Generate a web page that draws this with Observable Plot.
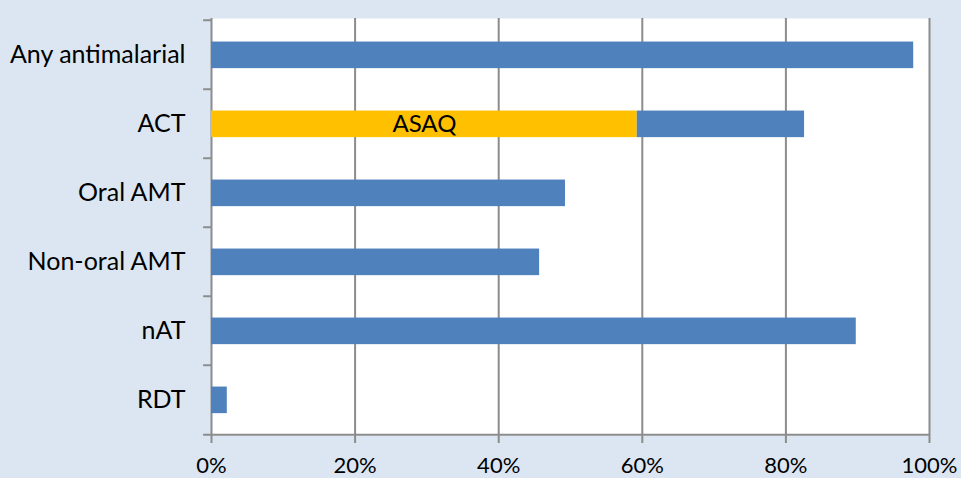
<!DOCTYPE html>
<html><head><meta charset="utf-8">
<script src="https://cdn.jsdelivr.net/npm/d3@7"></script>
<script src="https://cdn.jsdelivr.net/npm/@observablehq/plot@0.6"></script>
<style>
html,body{margin:0;padding:0;background:#dce6f2;}
#chart{width:961px;height:478px;}
</style></head>
<body><div id="chart"></div>
<script>
const categories = ["Any antimalarial", "ACT", "Oral AMT", "Non-oral AMT", "nAT", "RDT"];
const totals = [0.978, 0.826, 0.493, 0.457, 0.898, 0.022];
const asaqCategory = "ACT";
const asaqValue = 0.593;
const xTicks = [0, 0.2, 0.4, 0.6, 0.8, 1.0];

const rows = [];
categories.forEach((c, i) => {
  if (c === asaqCategory) {
    rows.push({cat: c, seg: "ASAQ", value: asaqValue, ord: 0});
    rows.push({cat: c, seg: "Other", value: totals[i] - asaqValue, ord: 1});
  } else {
    rows.push({cat: c, seg: "Other", value: totals[i], ord: 1});
  }
});

const W = 961, H = 478, mt = 18, mb = 43, ml = 211, mr = 32;
const step = (H - mt - mb) / categories.length;
const grey = "#8c8c8c";
const font = "Lato, 'Open Sans', sans-serif";

const chart = Plot.plot({
  width: W, height: H,
  marginTop: mt, marginBottom: mb, marginLeft: ml, marginRight: mr,
  style: {background: "transparent", fontFamily: font, color: "#000"},
  x: {domain: [0, 1]},
  y: {domain: categories, padding: 0},
  color: {domain: ["ASAQ", "Other"], range: ["#ffc000", "#4f81bd"]},
  marks: [
    Plot.frame({fill: "white", stroke: null}),
    Plot.ruleX(xTicks, {stroke: grey, strokeWidth: 2, strokeOpacity: 1}),
    Plot.barX(rows, Plot.stackX({y: "cat", x: "value", fill: "seg", order: "ord", insetTop: step * 0.31, insetBottom: step * 0.30})),
    Plot.text([{cat: asaqCategory, v: asaqValue / 2, label: "ASAQ"}], {x: "v", y: "cat", text: "label", fontSize: 24, fill: "#000"}),
    Plot.ruleY(categories, {y: d => d, x1: -0.011, x2: 0, dy: -step / 2, stroke: grey, strokeWidth: 2}),
    Plot.ruleY([0], {y: () => categories[categories.length - 1], x1: -0.011, x2: 1, dy: step / 2, stroke: grey, strokeWidth: 2}),
    Plot.axisX(xTicks, {tickFormat: d => Math.round(d * 100) + "%", tickSize: 8, tickPadding: 14, stroke: grey, strokeWidth: 2, strokeOpacity: 1, fontSize: 22, label: null}),
    Plot.axisY({tickSize: 0, tickPadding: 26, fontSize: 25, label: null})
  ]
});
document.getElementById("chart").appendChild(chart);
</script>
</body></html>
